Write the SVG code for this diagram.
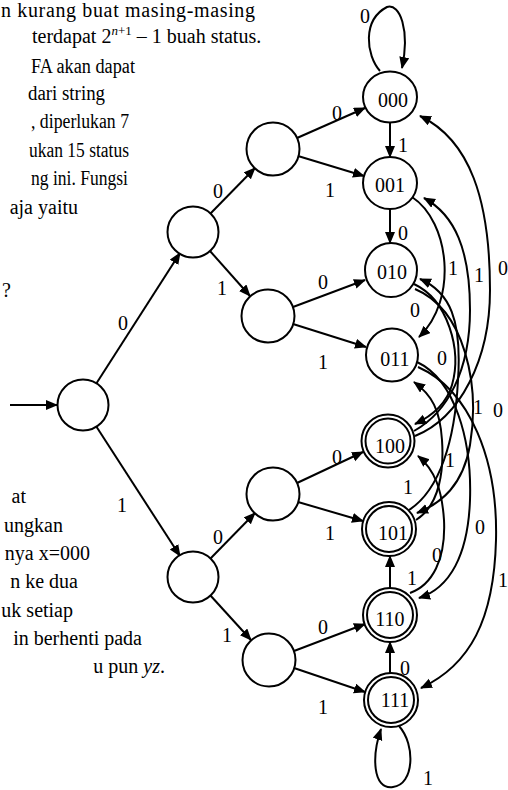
<svg xmlns="http://www.w3.org/2000/svg" width="508" height="790" viewBox="0 0 508 790">
<style>
text{font-family:"Liberation Serif","DejaVu Serif",serif;fill:#000}
.t{font-size:20px}
.l{font-size:20px;text-anchor:middle}
.n{fill:#fff;stroke:#000;stroke-width:2}
.e{fill:none;stroke:#000;stroke-width:2;marker-end:url(#ah)}
</style>
<defs>
<marker id="ah" markerWidth="13" markerHeight="11" refX="11" refY="5" orient="auto" markerUnits="userSpaceOnUse">
<path d="M0,0 L12,5 L0,10 z" fill="#000"/>
</marker>
</defs>
<rect width="508" height="790" fill="#fff"/>
<g id="text">
<text class="t" x="1" y="17" textLength="254" lengthAdjust="spacing">n kurang buat masing-masing</text>
<text class="t" x="32" y="43">terdapat 2<tspan dy="-8" font-size="13"><tspan font-style="italic">n</tspan>+1</tspan><tspan dy="8"> – 1 buah status.</tspan></text>
<text class="t" x="31" y="73" textLength="104" lengthAdjust="spacingAndGlyphs">FA akan dapat</text>
<text class="t" x="28" y="100" textLength="77" lengthAdjust="spacingAndGlyphs">dari string</text>
<text class="t" x="31" y="128" textLength="98" lengthAdjust="spacingAndGlyphs">, diperlukan 7</text>
<text class="t" x="29" y="157" textLength="100" lengthAdjust="spacingAndGlyphs">ukan 15 status</text>
<text class="t" x="31" y="185" textLength="97" lengthAdjust="spacingAndGlyphs">ng ini. Fungsi</text>
<text class="t" x="78" y="214" text-anchor="end">aja yaitu</text>
<text class="t" x="2" y="297">?</text>
<text class="t" x="26" y="503" text-anchor="end">at</text>
<text class="t" x="63" y="532" text-anchor="end">ungkan</text>
<text class="t" x="90" y="560" text-anchor="end">nya x=000</text>
<text class="t" x="78" y="588" text-anchor="end">n ke dua</text>
<text class="t" x="73" y="617" text-anchor="end">uk setiap</text>
<text class="t" x="142" y="645" text-anchor="end">in berhenti pada</text>
<text class="t" x="165" y="673" text-anchor="end">u pun <tspan font-style="italic">yz</tspan>.</text>
</g>
<g id="connectors">
<line class="e" x1="10" y1="405" x2="57" y2="405"/>
<line class="e" x1="96" y1="384" x2="180" y2="253"/>
<line class="e" x1="96" y1="426" x2="180" y2="556"/>
<line class="e" x1="210" y1="214" x2="255" y2="168"/>
<line class="e" x1="210" y1="251" x2="250" y2="296"/>
<line class="e" x1="210" y1="559" x2="255" y2="513"/>
<line class="e" x1="210" y1="595" x2="251" y2="640"/>
<line class="e" x1="297" y1="138" x2="365" y2="108"/>
<line class="e" x1="298" y1="156" x2="364" y2="176"/>
<line class="e" x1="293" y1="307" x2="365" y2="280"/>
<line class="e" x1="293" y1="324" x2="366" y2="347"/>
<line class="e" x1="297" y1="483" x2="363" y2="452"/>
<line class="e" x1="298" y1="502" x2="363" y2="521"/>
<line class="e" x1="294" y1="651" x2="365" y2="624"/>
<line class="e" x1="294" y1="668" x2="365" y2="692"/>
<line class="e" x1="390" y1="123" x2="390" y2="157"/>
<line class="e" x1="390" y1="209" x2="390" y2="243"/>
<line class="e" x1="390" y1="673" x2="390" y2="642"/>
<line class="e" x1="390" y1="588" x2="390" y2="556"/>
<path class="e" d="M380,71 C366,55 362,20 387,7 C400,3 410,30 402,68"/>
<path class="e" d="M399,726 C416,745 414,785 393,787 C372,790 372,755 381,729"/>
<path class="e" d="M412,197 C450,222 458,300 419,337"/>
<path class="e" d="M414,431 C448,412 470,370 470,310 C470,250 455,215 424,198"/>
<path class="e" d="M415,436 C460,418 490,360 490,290 C490,200 470,140 420,116"/>
<path class="e" d="M409,510 C440,490 455,440 458,380 C462,320 450,292 420,279"/>
<path class="e" d="M416,520 C440,505 444,470 442,440 C440,410 432,395 414,382"/>
<path class="e" d="M414,284 C448,300 462,350 452,385 C446,405 432,416 415,424"/>
<path class="e" d="M415,289 C465,310 480,385 470,445 C463,485 442,503 417,513"/>
<path class="e" d="M417,362 C455,380 472,440 470,500 C468,555 450,588 419,598"/>
<path class="e" d="M418,367 C470,390 498,460 496,540 C494,620 470,665 421,688"/>
<path class="e" d="M410,593 C432,585 446,560 444,520 C442,490 435,470 418,456"/>
</g>
<g id="labels">
<text class="l" x="123" y="330">0</text>
<text class="l" x="122" y="512">1</text>
<text class="l" x="218" y="198">0</text>
<text class="l" x="222" y="295">1</text>
<text class="l" x="218" y="544">0</text>
<text class="l" x="227" y="642">1</text>
<text class="l" x="337" y="120">0</text>
<text class="l" x="330" y="197">1</text>
<text class="l" x="323" y="289">0</text>
<text class="l" x="323" y="369">1</text>
<text class="l" x="337" y="464">0</text>
<text class="l" x="330" y="540">1</text>
<text class="l" x="323" y="634">0</text>
<text class="l" x="323" y="714">1</text>
<text class="l" x="403" y="152">1</text>
<text class="l" x="403" y="240">0</text>
<text class="l" x="405" y="675">0</text>
<text class="l" x="365" y="23">0</text>
<text class="l" x="428" y="785">1</text>
<text class="l" x="453" y="275">1</text>
<text class="l" x="479" y="282">1</text>
<text class="l" x="503" y="275">0</text>
<text class="l" x="415" y="317">0</text>
<text class="l" x="442" y="365">0</text>
<text class="l" x="478" y="414">1</text>
<text class="l" x="498" y="417">0</text>
<text class="l" x="450" y="467">1</text>
<text class="l" x="408" y="494">1</text>
<text class="l" x="480" y="534">0</text>
<text class="l" x="437" y="562">0</text>
<text class="l" x="412" y="585">1</text>
<text class="l" x="503" y="587">1</text>
</g>
<g id="q0"><circle class="n" cx="83" cy="405" r="25.5"/></g>
<g id="q1"><circle class="n" cx="193" cy="232" r="25.5"/></g>
<g id="q2"><circle class="n" cx="193" cy="577" r="25.5"/></g>
<g id="q3"><circle class="n" cx="273" cy="149" r="26.5"/></g>
<g id="q4"><circle class="n" cx="268" cy="316" r="26.5"/></g>
<g id="q5"><circle class="n" cx="273" cy="494" r="26.5"/></g>
<g id="q6"><circle class="n" cx="269" cy="660" r="26.5"/></g>
<g id="s000"><ellipse class="n" cx="390" cy="97" rx="27" ry="25.5"/><text class="l" x="393" y="107">000</text></g>
<g id="s001"><ellipse class="n" cx="390" cy="183" rx="27" ry="26"/><text class="l" x="390" y="192">001</text></g>
<g id="s010"><ellipse class="n" cx="391" cy="270" rx="26" ry="27"/><text class="l" x="392" y="279">010</text></g>
<g id="s011"><ellipse class="n" cx="392" cy="355" rx="26" ry="26.5"/><text class="l" x="395" y="366">011</text></g>
<g id="s100"><circle class="n" cx="388" cy="441" r="26.5"/><circle class="n" cx="388" cy="441" r="22.5"/><text class="l" x="390" y="453">100</text></g>
<g id="s101"><circle class="n" cx="389" cy="529" r="27"/><circle class="n" cx="389" cy="529" r="23"/><text class="l" x="393" y="540">101</text></g>
<g id="s110"><circle class="n" cx="390" cy="615" r="27"/><circle class="n" cx="390" cy="615" r="23"/><text class="l" x="390" y="626">110</text></g>
<g id="s111"><circle class="n" cx="391" cy="700" r="27"/><circle class="n" cx="391" cy="700" r="23"/><text class="l" x="395" y="707">111</text></g>
</svg>
